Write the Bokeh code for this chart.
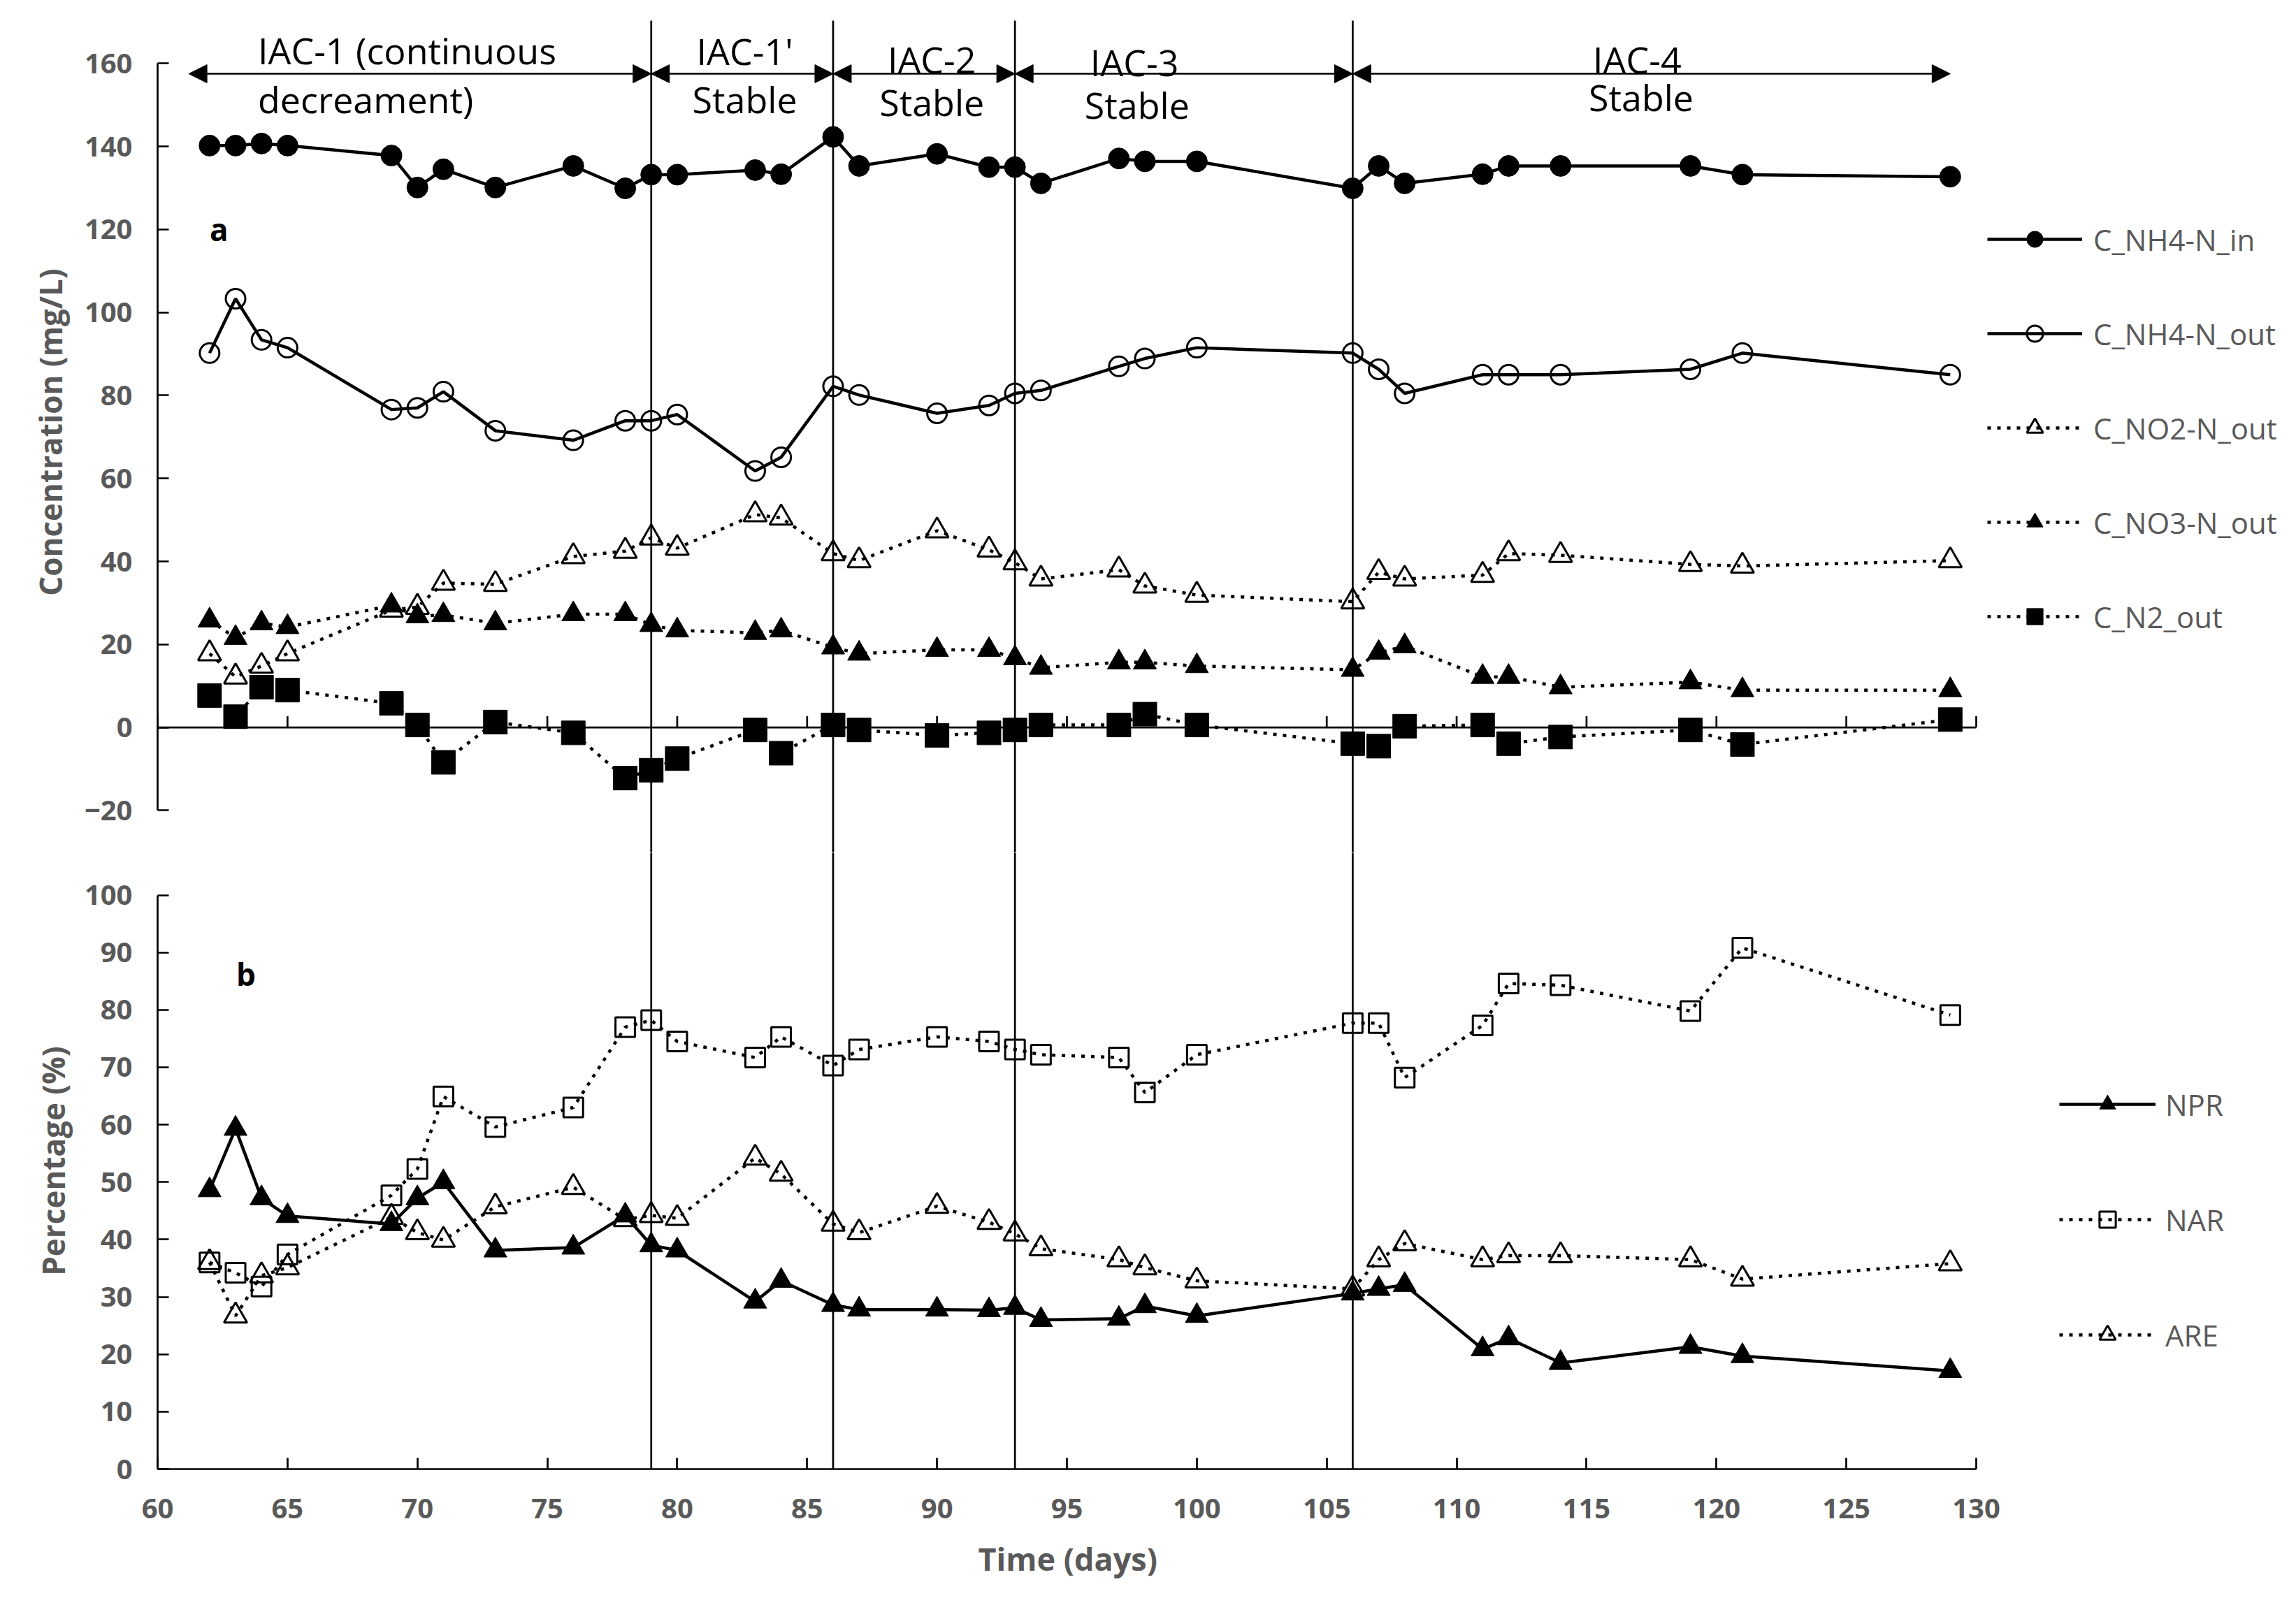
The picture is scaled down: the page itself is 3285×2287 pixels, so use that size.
from bokeh.plotting import figure
from bokeh.layouts import column
from bokeh.models import (Range1d, FixedTicker, Span, Label, Arrow, NormalHead,
                          Legend, LegendItem, Title)
from bokeh.embed import file_html
from bokeh.resources import INLINE

# ---------------- data ----------------
days = [62, 63, 64, 65, 69, 70, 71, 73, 76, 78, 79, 80, 83, 84, 86, 87,
        90, 92, 93, 94, 97, 98, 100, 106, 107, 108, 111, 112, 114, 119, 121, 129]

nh4_in = [140.2, 140.2, 140.7, 140.2, 137.8, 130.1, 134.5, 130.1, 135.3, 129.9, 133.2, 133.2,
          134.3, 133.3, 142.3, 135.3, 138.2, 135.0, 135.0, 131.1, 137.1, 136.4, 136.4, 129.9,
          135.3, 131.1, 133.3, 135.3, 135.3, 135.3, 133.2, 132.7]
nh4_out = [90.2, 103.3, 93.4, 91.5, 76.6, 77.0, 80.9, 71.5, 69.2, 73.9, 73.9, 75.4,
           61.8, 65.1, 82.2, 80.1, 75.7, 77.6, 80.5, 81.2, 87.0, 88.9, 91.5, 90.2,
           86.3, 80.5, 85.0, 85.0, 85.0, 86.3, 90.2, 85.0]
no2_out = [17.8, 12.2, 14.8, 17.8, 28.3, 29.0, 34.8, 34.5, 41.2, 42.5, 45.7, 43.2,
           51.3, 50.5, 41.9, 40.2, 47.4, 42.8, 39.7, 35.8, 38.0, 34.1, 31.9, 30.3,
           37.4, 35.8, 36.7, 41.9, 41.5, 39.3, 38.9, 40.2]
no3_out = [25.8, 21.6, 25.1, 24.2, 29.4, 26.8, 27.1, 25.1, 27.3, 27.3, 24.7, 23.4,
           22.8, 23.4, 19.3, 17.8, 18.7, 18.7, 16.7, 14.4, 15.7, 15.7, 14.8, 13.9,
           18.0, 19.6, 12.2, 12.2, 9.7, 10.9, 9.0, 9.0]
n2_out = [7.7, 2.6, 9.7, 9.0, 5.8, 0.6, -8.4, 1.3, -1.3, -12.2, -10.3, -7.5,
          -0.6, -6.2, 0.6, -0.6, -1.9, -1.3, -0.6, 0.6, 0.6, 3.2, 0.6, -3.9,
          -4.5, 0.3, 0.6, -3.9, -2.3, -0.6, -4.1, 1.9]

npr = [48.6, 59.3, 47.2, 44.1, 42.7, 47.2, 50.0, 38.1, 38.6, 44.2, 39.0, 38.1,
       29.2, 32.8, 28.6, 27.8, 27.8, 27.7, 28.1, 26.0, 26.2, 28.4, 26.7, 30.6,
       31.4, 32.1, 20.9, 22.8, 18.5, 21.3, 19.7, 17.1]
nar = [36.0, 34.2, 31.8, 37.4, 47.7, 52.3, 64.9, 59.6, 63.0, 77.0, 78.2, 74.5,
       71.7, 75.3, 70.3, 73.1, 75.3, 74.5, 73.1, 72.2, 71.7, 65.6, 72.2, 77.7,
       77.7, 68.2, 77.3, 84.6, 84.3, 79.8, 90.8, 79.1]
are = [36.0, 26.7, 33.7, 35.1, 43.9, 41.2, 39.9, 45.7, 49.1, 43.5, 44.2, 43.7,
       54.2, 51.4, 42.7, 41.2, 45.8, 43.0, 41.0, 38.4, 36.5, 35.1, 32.8, 31.4,
       36.5, 39.3, 36.5, 37.2, 37.2, 36.5, 33.1, 35.8]

phase_bounds = [79, 86, 93, 106]
phase_arrows = [(61.2, 79), (79, 86), (86, 93), (93, 106), (106, 129)]
phase_texts = [
    ("IAC-1 (continuous", 63.86, 163.3, "left"),
    ("decreament)", 63.86, 151.4, "left"),
    ("IAC-1'", 82.6, 163.0, "center"),
    ("Stable", 82.6, 151.4, "center"),
    ("IAC-2", 89.8, 161.1, "center"),
    ("Stable", 89.8, 150.8, "center"),
    ("IAC-3", 97.6, 160.4, "center"),
    ("Stable", 97.7, 150.1, "center"),
    ("IAC-4", 116.95, 161.1, "center"),
    ("Stable", 117.1, 152.0, "center"),
]

x_ticks = list(range(60, 131, 5))
conc_ticks = list(range(-20, 161, 20))
pct_ticks = list(range(0, 101, 10))

# ---------------- styling ----------------
FONT = "Open Sans"
GREY = "#595959"
W = 3280
H_TOP = 1220
H_BOT = 1066
ML = 225
MR = 5
PX_PER_DAY = 2602 / 70.0
X_END = 60 + (W - ML - MR) / PX_PER_DAY   # frame extends right to host the legends
DOT = "5 9"
LW_SOLID = 4.5
LW_DOT = 4.5


def style_yaxis(p, ticks, bounds, label, standoff):
    ax = p.yaxis[0]
    ax.ticker = FixedTicker(ticks=ticks)
    ax.bounds = bounds
    ax.major_tick_in = 16
    ax.major_tick_out = 0
    ax.minor_tick_line_color = None
    ax.axis_line_width = 2.7
    ax.major_tick_line_width = 2.7
    ax.major_label_text_font = FONT
    ax.major_label_text_font_style = "bold"
    ax.major_label_text_font_size = "40px"
    ax.major_label_text_color = GREY
    ax.major_label_standoff = 36
    ax.axis_label = label
    ax.axis_label_text_font = FONT
    ax.axis_label_text_font_style = "bold"
    ax.axis_label_text_font_size = "44px"
    ax.axis_label_text_color = GREY
    ax.axis_label_standoff = standoff


# ---------------- top panel ----------------
y1_lo, y1_hi = -30.2, 172.5
p1 = figure(width=W, height=H_TOP, x_range=Range1d(60, X_END), y_range=Range1d(y1_lo, y1_hi),
            output_backend="svg", toolbar_location=None, x_axis_location=None,
            min_border_left=ML, min_border_right=MR, min_border_top=16, min_border_bottom=0)
p1.outline_line_color = None
p1.grid.visible = False
style_yaxis(p1, conc_ticks, (-20, 160), "Concentration (mg/L)", 16)

# zero axis with upward ticks
p1.segment(x0=[x_ticks[0]], y0=[0], x1=[x_ticks[-1]], y1=[0], line_color="black", line_width=2.7)
p1.segment(x0=x_ticks, y0=[0] * len(x_ticks), x1=x_ticks, y1=[2.7] * len(x_ticks),
           line_color="black", line_width=2.7)

# phase boundary lines
p1.segment(x0=phase_bounds, y0=[y1_lo] * len(phase_bounds), x1=phase_bounds,
           y1=[170.3] * len(phase_bounds), line_color="black", line_width=2.7)

for a, b in phase_arrows:
    p1.add_layout(Arrow(x_start=a, x_end=b, y_start=157.5, y_end=157.5,
                        line_color="black", line_width=2.5,
                        start=NormalHead(size=26, fill_color="black", line_color="black", line_width=1),
                        end=NormalHead(size=26, fill_color="black", line_color="black", line_width=1)))

for txt, x, y, al in phase_texts:
    p1.add_layout(Label(x=x, y=y, text=txt, text_align=al, text_baseline="middle",
                        text_font=FONT, text_font_size="52px", text_color="black"))

p1.add_layout(Label(x=62.36, y=120.1, text="a", text_align="center", text_baseline="middle",
                    text_font=FONT, text_font_style="bold", text_font_size="44px", text_color="black"))

l_in = p1.line(days, nh4_in, line_color="black", line_width=LW_SOLID)
s_in = p1.scatter(days, nh4_in, marker="circle", size=30, fill_color="black", line_color="black")
l_out = p1.line(days, nh4_out, line_color="black", line_width=LW_SOLID)
s_out = p1.scatter(days, nh4_out, marker="circle", size=28, fill_color=None, line_color="black", line_width=3)
l_no2 = p1.line(days, no2_out, line_color="black", line_width=LW_DOT, line_dash=DOT)
s_no2 = p1.scatter(days, no2_out, marker="triangle", size=33, fill_color=None, line_color="black", line_width=3)
l_no3 = p1.line(days, no3_out, line_color="black", line_width=LW_DOT, line_dash=DOT)
s_no3 = p1.scatter(days, no3_out, marker="triangle", size=33, fill_color="black", line_color="black")
l_n2 = p1.line(days, n2_out, line_color="black", line_width=LW_DOT, line_dash=DOT)
s_n2 = p1.scatter(days, n2_out, marker="square", size=34, fill_color="black", line_color="black")

leg1 = Legend(items=[
    LegendItem(label="C_NH4-N_in", renderers=[l_in, s_in]),
    LegendItem(label="C_NH4-N_out", renderers=[l_out, s_out]),
    LegendItem(label="C_NO2-N_out", renderers=[l_no2, s_no2]),
    LegendItem(label="C_NO3-N_out", renderers=[l_no3, s_no3]),
    LegendItem(label="C_N2_out", renderers=[l_n2, s_n2]),
], location=(2618, 309), orientation="vertical", glyph_width=136, glyph_height=58,
    label_height=58, spacing=77, padding=0, margin=0, border_line_color=None,
    background_fill_alpha=0, label_standoff=16, label_text_font=FONT,
    label_text_font_size="42px", label_text_color=GREY, label_text_baseline="middle")
p1.add_layout(leg1)

# ---------------- bottom panel ----------------
p2 = figure(width=W, height=H_BOT, x_range=Range1d(60, X_END), y_range=Range1d(0, 107.37),
            output_backend="svg", toolbar_location=None,
            min_border_left=ML, min_border_right=MR, min_border_top=0, min_border_bottom=184)
p2.outline_line_color = None
p2.grid.visible = False
style_yaxis(p2, pct_ticks, (0, 100), "Percentage (%)", 12)

xa = p2.xaxis[0]
xa.ticker = FixedTicker(ticks=x_ticks)
xa.bounds = (x_ticks[0], x_ticks[-1])
xa.major_tick_in = 16
xa.major_tick_out = 0
xa.minor_tick_line_color = None
xa.axis_line_width = 2.7
xa.major_tick_line_width = 2.7
xa.major_label_text_font = FONT
xa.major_label_text_font_style = "bold"
xa.major_label_text_font_size = "40px"
xa.major_label_text_color = GREY
xa.major_label_standoff = 42

# axis title centred on the 60-130 span (frame is wider to host the legends)
x_title = "Time (days)"
x_title_center_px = (95 - 60) * PX_PER_DAY
x_title_half_w = 127
p2.add_layout(Title(text=x_title, align="left", offset=x_title_center_px - x_title_half_w,
                    text_font=FONT, text_font_style="bold", text_font_size="45px",
                    text_color=GREY, standoff=44), "below")

for b in phase_bounds:
    p2.add_layout(Span(location=b, dimension="height", line_color="black", line_width=2.7))

p2.add_layout(Label(x=63.4, y=86.3, text="b", text_align="center", text_baseline="middle",
                    text_font=FONT, text_font_style="bold", text_font_size="44px", text_color="black"))

l_npr = p2.line(days, npr, line_color="black", line_width=LW_SOLID)
s_npr = p2.scatter(days, npr, marker="triangle", size=33, fill_color="black", line_color="black")
l_nar = p2.line(days, nar, line_color="black", line_width=LW_DOT, line_dash=DOT)
s_nar = p2.scatter(days, nar, marker="square", size=28, fill_color=None, line_color="black", line_width=3)
l_are = p2.line(days, are, line_color="black", line_width=LW_DOT, line_dash=DOT)
s_are = p2.scatter(days, are, marker="triangle", size=33, fill_color=None, line_color="black", line_width=3)

leg2 = Legend(items=[
    LegendItem(label="NPR", renderers=[l_npr, s_npr]),
    LegendItem(label="NAR", renderers=[l_nar, s_nar]),
    LegendItem(label="ARE", renderers=[l_are, s_are]),
], location=(2721, 163), orientation="vertical", glyph_width=138, glyph_height=58,
    label_height=58, spacing=107, padding=0, margin=0, border_line_color=None,
    background_fill_alpha=0, label_standoff=14, label_text_font=FONT,
    label_text_font_size="42px", label_text_color=GREY, label_text_baseline="middle")
p2.add_layout(leg2)

layout = column(p1, p2, spacing=0)
open("out.html", "w").write(file_html(layout, INLINE))
